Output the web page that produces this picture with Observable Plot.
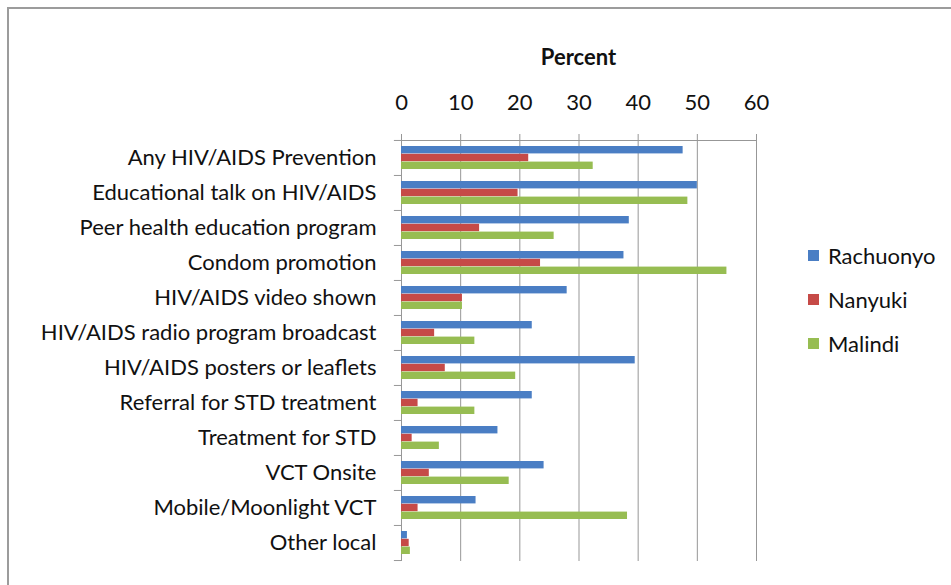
<!DOCTYPE html>
<html>
<head>
<meta charset="utf-8">
<script src="https://cdn.jsdelivr.net/npm/d3@7"></script>
<script src="https://cdn.jsdelivr.net/npm/@observablehq/plot@0.6"></script>
<style>
  html, body { margin: 0; padding: 0; background: #fff; overflow: hidden; }
  #wrap { position: relative; width: 951px; height: 585px; font-family: Lato, sans-serif; }
  #border { position: absolute; left: 7px; top: 7px; width: 1000px; height: 1000px;
            border-left: 2px solid #9c9c9c; border-top: 2px solid #9c9c9c; box-sizing: border-box; }
  #chart { position: absolute; left: 0; top: 0; }
  #title { position: absolute; left: 401px; width: 355px; top: 46px; text-align: center;
           font-weight: bold; font-size: 22px; line-height: 22px; color: #111; }
  #legend { position: absolute; left: 808px; top: 233px; }
  .item { height: 44px; display: flex; align-items: center; font-size: 22px; color: #111; }
  .sw { width: 11px; height: 11px; margin-right: 9px; }
</style>
</head>
<body>
<div id="wrap">
  <div id="border"></div>
  <div id="chart"></div>
  <div id="title">Percent</div>
  <div id="legend"></div>
</div>
<script>
const categories = [
  "Any HIV/AIDS Prevention",
  "Educational talk on HIV/AIDS",
  "Peer health education program",
  "Condom promotion",
  "HIV/AIDS video shown",
  "HIV/AIDS radio program broadcast",
  "HIV/AIDS posters or leaflets",
  "Referral for STD treatment",
  "Treatment for STD",
  "VCT Onsite",
  "Mobile/Moonlight VCT",
  "Other local"
];
const series = ["Rachuonyo", "Nanyuki", "Malindi"];
const colors = ["#4A7EC4", "#C64A47", "#97BD52"];
const rachuonyo = [47.6, 50.0, 38.5, 37.6, 28.0, 22.1, 39.5, 22.1, 16.3, 24.1, 12.6, 1.0];
const nanyuki   = [21.5, 19.7, 13.2, 23.5, 10.3,  5.6,  7.4,  2.8,  1.8,  4.7,  2.8, 1.3];
const malindi   = [32.4, 48.4, 25.8, 55.0, 10.3, 12.4, 19.3, 12.4,  6.4, 18.2, 38.2, 1.5];
const xTicks = [0, 10, 20, 30, 40, 50, 60];

const valuesBySeries = [rachuonyo, nanyuki, malindi];

const W = 951, H = 585;
const mTop = 140, mBottom = 24, mLeft = 401, mRight = 195;
const padInner = 1 / 3, padOuter = 1 / 6;
const step = (H - mTop - mBottom) / (categories.length - padInner + 2 * padOuter);
const bw = step * (1 - padInner);
const barH = bw / series.length;
const grid = "#979797";

const barMarks = series.map((s, i) => {
  const data = categories.map((c, j) => ({category: c, series: s, value: valuesBySeries[i][j]}));
  return Plot.barX(data, {
    x: "value", y: "category", fill: colors[i],
    insetTop: barH * i, insetBottom: barH * (series.length - 1 - i)
  });
});

const chart = Plot.plot({
  width: W, height: H,
  marginTop: mTop, marginBottom: mBottom, marginLeft: mLeft, marginRight: mRight,
  style: {background: "transparent", fontFamily: "Lato, sans-serif"},
  x: {domain: [0, 60]},
  y: {type: "band", domain: categories, paddingInner: padInner, paddingOuter: padOuter, align: 0.5},
  marks: [
    Plot.gridX(xTicks, {stroke: grid, strokeOpacity: 1, strokeWidth: 1}),
    Plot.axisX(xTicks, {anchor: "top", tickSize: 7, tickPadding: 24, stroke: grid, strokeOpacity: 1,
      fontSize: 22, fill: "#111", label: null, tickFormat: d => String(d)}),
    Plot.frame({anchor: "top", stroke: grid, strokeOpacity: 1}),
    Plot.ruleX([0], {stroke: grid}),
    Plot.ruleY(categories, {y: d => d, x1: -1.2, x2: 0, dy: -step / 2, stroke: grid}),
    Plot.ruleY(categories.slice(-1), {y: d => d, x1: -1.2, x2: 0, dy: step / 2, stroke: grid}),
    ...barMarks,
    Plot.axisY({tickSize: 0, tickPadding: 25, fontSize: 22, fill: "#111", label: null})
  ]
});
document.getElementById("chart").appendChild(chart);

const legend = d3.select("#legend");
series.forEach((s, i) => {
  const row = legend.append("div").attr("class", "item");
  row.append("div").attr("class", "sw").style("background", colors[i]);
  row.append("span").text(s);
});
</script>
</body>
</html>
